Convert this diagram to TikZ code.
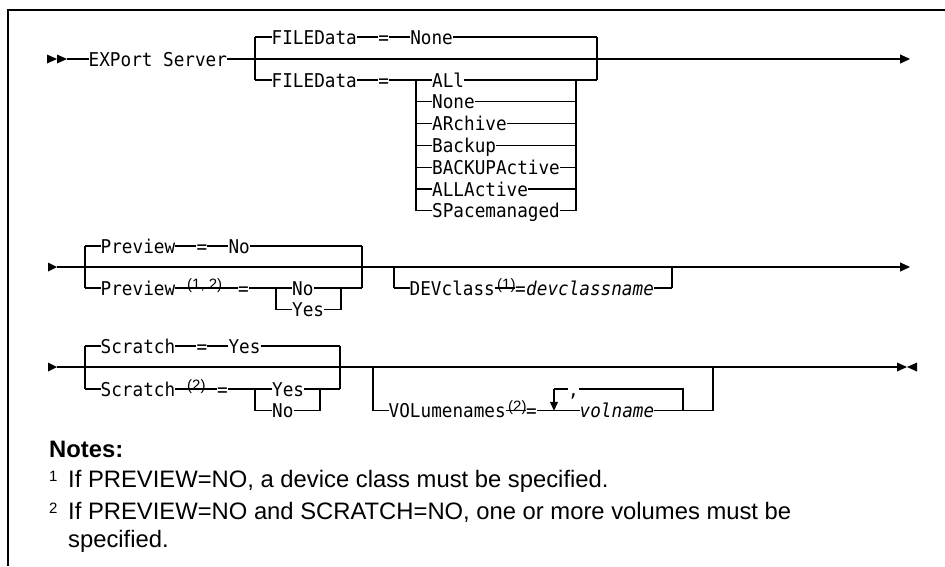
\documentclass[tikz,border=0pt]{standalone}
\usepackage{fontspec}
\usetikzlibrary{arrows.meta}
\newfontfamily\railfont[FakeStretch=0.93]{DejaVu Sans Mono}
\newfontfamily\notefont{Liberation Sans}

\tikzset{
  rail/.style={line width=1.1pt},
  kw/.style={font=\railfont\fontsize{19}{22}\selectfont,inner sep=0pt,text height=14pt,text depth=0pt,anchor=west},
  var/.style={kw,font=\railfont\itshape\fontsize{19}{22}\selectfont},
  sup/.style={font=\notefont\fontsize{15}{17}\selectfont,inner sep=0pt,anchor=base west},
  note/.style={font=\notefont\fontsize{23.8}{28}\selectfont,inner sep=0pt,anchor=base west},
  endtip/.style={-{Triangle[width=9pt,length=10pt]}},
}

\begin{document}
\begin{tikzpicture}[x=1pt,y=-1pt]
	\useasboundingbox (0,0) rectangle (945,566);
	\draw[line width=1.5pt] (945,10) -- (8,10) -- (8,566);

	% row 1
	\fill (47,54.5) -- (57,59) -- (47,63.5) -- cycle;
	\fill (57,54.5) -- (67,59) -- (57,63.5) -- cycle;
	\coordinate (r1s) at (67,59);
	\coordinate (r1e) at (910,59);
	\node[kw] (cmd) at (88.5,59) {EXPort Server};
	\draw[rail] (r1s) -- (cmd.west);
	\draw[rail,endtip] (cmd.east) -- (r1e);

	\draw[rail] (255,37) -- (255,80);
	\draw[rail] (597,37) -- (597,80);
	\node[kw] (fdtop) at (271.5,37) {FILEData};
	\node[kw] (eqtop) at (378.1,37) {=};
	\node[kw] (fdnone) at (410.1,37) {None};
	\draw[rail] (255,37) -- (fdtop.west) (fdtop.east) -- (eqtop.west) (eqtop.east) -- (fdnone.west) (fdnone.east) -- (597,37);

	\node[kw] (fdlow) at (271.5,80) {FILEData};
	\node[kw] (eqlow) at (378.1,80) {=};
	\draw[rail] (255,80) -- (fdlow.west) (fdlow.east) -- (eqlow.west) (eqlow.east) -- (416,80);
	\draw[rail] (416,80) -- (416,210.8);
	\draw[rail] (576,80) -- (576,210.8);
	\foreach \v [count=\i from 0] in {ALl,None,ARchive,Backup,BACKUPActive,ALLActive,SPacemanaged} {
		\node[kw] (val\i) at (432,{80+21.8*\i}) {\v};
		\draw[rail] (416,{80+21.8*\i}) -- (val\i.west);
	}
	\draw[rail] (val0.east) -- (597,80);
	\foreach \i in {1,...,6}
		\draw[rail] (val\i.east) -- (576,{80+21.8*\i});

	% row 2
	\fill (48,262.5) -- (57,267) -- (48,271.5) -- cycle;
	\coordinate (r2s) at (57,267);
	\coordinate (r2e) at (910,267);
	\draw[rail,endtip] (r2s) -- (r2e);

	\draw[rail] (85,246) -- (85,288);
	\draw[rail] (362,246) -- (362,288);
	\node[kw] (prvtop) at (100.5,246) {Preview};
	\node[kw] (eqp1) at (196.4,246) {=};
	\node[kw] (prvno) at (228.4,246) {No};
	\draw[rail] (85,246) -- (prvtop.west) (prvtop.east) -- (eqp1.west) (eqp1.east) -- (prvno.west) (prvno.east) -- (362,246);

	\node[kw] (prvlow) at (100.5,288) {Preview};
	\node[sup] (prvnote) at (187,289) {(1, 2)};
	\node[kw] (eqp2) at (238,288) {=};
	\draw[rail] (85,288) -- (prvlow.west) (prvlow.east) -- (eqp2.west) (eqp2.east) -- (276,288);
	\draw[rail] (276,288) -- (276,309.8);
	\draw[rail] (341,288) -- (341,309.8);
	\node[kw] (pno) at (292,288) {No};
	\node[kw] (pyes) at (292,309.8) {Yes};
	\draw[rail] (276,288) -- (pno.west) (pno.east) -- (341,288) -- (362,288);
	\draw[rail] (276,309.8) -- (pyes.west) (pyes.east) -- (341,309.8);

	\draw[rail] (394,267) -- (394,288);
	\draw[rail] (672,267) -- (672,288);
	\node[kw] (dev) at (409.5,288) {DEVclass};
	\node[sup] (devnote) at (497,289) {(1)};
	\node[kw] (eqd) at (515,288) {=};
	\node[var] (devname) at (eqd.east) {devclassname};
	\draw[rail] (394,288) -- (dev.west) (dev.east) -- (eqd.west) (devname.east) -- (672,288);

	% row 3
	\fill (48,362.5) -- (57,367) -- (48,371.5) -- cycle;
	\fill (897,362.5) -- (907,367) -- (897,371.5) -- cycle;
	\fill (917,362.5) -- (907,367) -- (917,371.5) -- cycle;
	\coordinate (r3s) at (57,367);
	\coordinate (r3e) at (897,367);
	\draw[rail] (r3s) -- (r3e);

	\draw[rail] (85,346) -- (85,389);
	\draw[rail] (340,346) -- (340,389);
	\node[kw] (scrtop) at (100.5,346) {Scratch};
	\node[kw] (eqs1) at (196.4,346) {=};
	\node[kw] (scryes) at (228.4,346) {Yes};
	\draw[rail] (85,346) -- (scrtop.west) (scrtop.east) -- (eqs1.west) (eqs1.east) -- (scryes.west) (scryes.east) -- (340,346);

	\node[kw] (scrlow) at (100.5,389) {Scratch};
	\node[sup] (scrnote) at (187,390) {(2)};
	\node[kw] (eqs2) at (217,389) {=};
	\draw[rail] (85,389) -- (scrlow.west) (scrlow.east) -- (eqs2.west) (eqs2.east) -- (255,389);
	\draw[rail] (255,389) -- (255,410.8);
	\draw[rail] (320,389) -- (320,410.8);
	\node[kw] (syes) at (272,389) {Yes};
	\node[kw] (sno) at (272,410.8) {No};
	\draw[rail] (255,389) -- (syes.west) (syes.east) -- (320,389) -- (340,389);
	\draw[rail] (255,410.8) -- (sno.west) (sno.east) -- (320,410.8);

	\draw[rail] (373,367) -- (373,410.8);
	\draw[rail] (713,367) -- (713,410.8);
	\node[kw] (vol) at (388.5,410.8) {VOLumenames};
	\node[sup] (volnote) at (508,411.8) {(2)};
	\node[kw] (eqv) at (526,410.8) {=};
	\node[kw] (comma) at (568,389) {,};
	\node[var] (volname) at (579.5,410.8) {volname};
	\draw[rail] (373,410.8) -- (vol.west) (vol.east) -- (eqv.west) (eqv.east) -- (volname.west);
	\draw[rail] (comma.west) -- (554,389);
	\draw[rail,-{Triangle[width=8pt,length=9pt]}] (554,389) -- (554,410.8);
	\draw[rail] (comma.east) -- (683,389) -- (683,410.8);
	\draw[rail] (volname.east) -- (713,410.8);

	% notes
	\node[note,font=\notefont\bfseries\fontsize{23.8}{28}\selectfont] (notes) at (49,457) {Notes:};
	\node[sup] (n1) at (49,481) {1};
	\node[note] (note1) at (68,487) {If PREVIEW=NO, a device class must be specified.};
	\node[sup] (n2) at (49,513) {2};
	\node[note] (note2) at (68,519) {If PREVIEW=NO and SCRATCH=NO, one or more volumes must be};
	\node[note] (note2b) at (68,547) {specified.};
\end{tikzpicture}
\end{document}
